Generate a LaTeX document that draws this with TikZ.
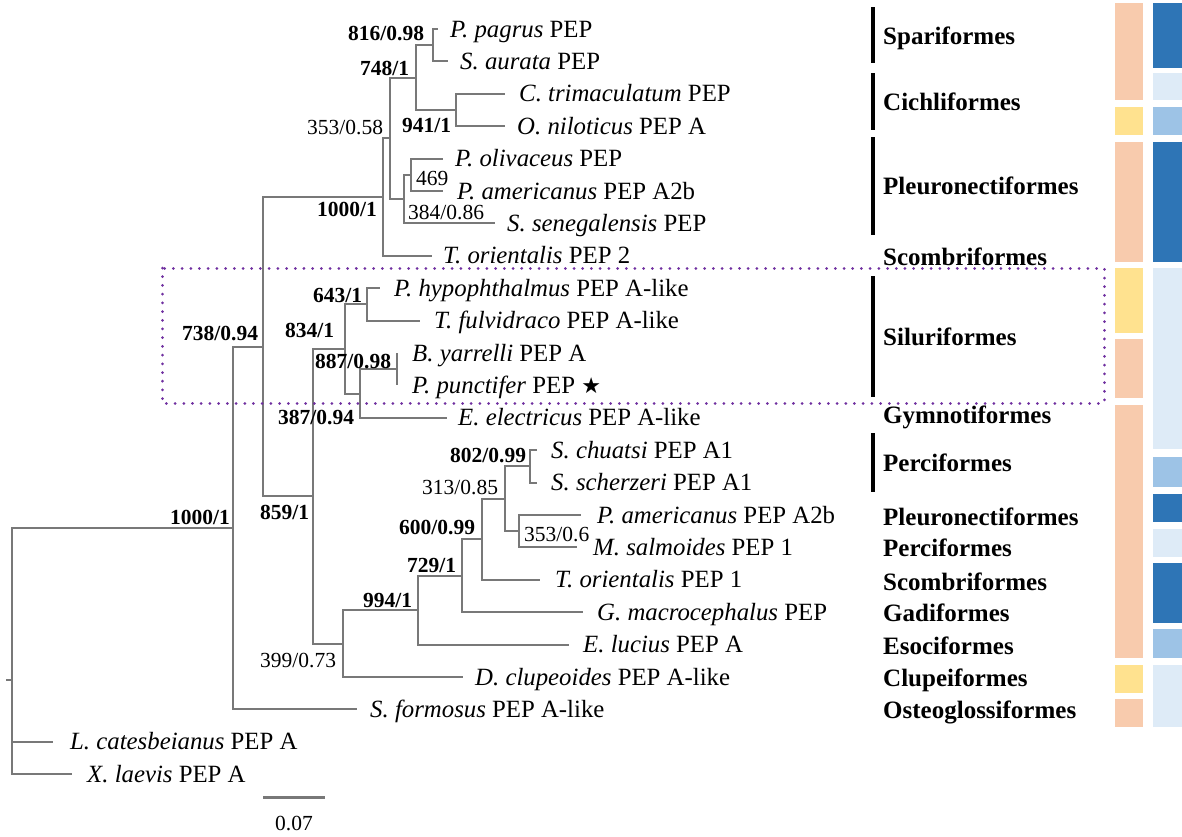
\documentclass[tikz,border=0pt]{standalone}
\usepackage{fontspec}
\setmainfont{Liberation Serif}
\newfontfamily\symfont{DejaVu Sans}
\definecolor{brgray}{RGB}{120,120,120}
\definecolor{boxpurple}{RGB}{112,48,160}
\definecolor{salmon}{RGB}{248,203,173}
\definecolor{yellowc}{RGB}{255,226,143}
\definecolor{darkb}{RGB}{46,117,182}
\definecolor{midb}{RGB}{157,195,230}
\definecolor{lightb}{RGB}{222,235,247}
\begin{document}
\begin{tikzpicture}[x=1pt,y=-1pt,
  br/.style={draw=brgray, line width=2pt},
  leaf/.style={anchor=base west, inner sep=0pt, font=\fontsize{24.8}{24.8}\selectfont},
  supb/.style={anchor=base west, inner sep=0pt, font=\fontsize{21.5}{21.5}\selectfont\bfseries},
  supr/.style={anchor=base west, inner sep=0pt, font=\fontsize{21.5}{21.5}\selectfont},
  ord/.style={anchor=base west, inner sep=0pt, font=\fontsize{25}{25}\selectfont\bfseries},
  obar/.style={draw=black, line width=3.5pt},
  cbar/.style={draw=none}]
\useasboundingbox (0,0) rectangle (1182,836);
% leaves (branch tips)
\coordinate (L0) at (438,29);
\coordinate (L1) at (448,61.4);
\coordinate (L2) at (505,93.8);
\coordinate (L3) at (505,126.2);
\coordinate (L4) at (443,158.6);
\coordinate (L5) at (443,191);
\coordinate (L6) at (495,223.4);
\coordinate (L7) at (432,255.8);
\coordinate (L8) at (380,288.2);
\coordinate (L9) at (420,320.6);
\coordinate (L10) at (397,353);
\coordinate (L11) at (397,385.4);
\coordinate (L12) at (447,417.8);
\coordinate (L13) at (537,450.2);
\coordinate (L14) at (537,482.6);
\coordinate (L15) at (581,515);
\coordinate (L16) at (577,547.4);
\coordinate (L17) at (540,579.8);
\coordinate (L18) at (583,612.2);
\coordinate (L19) at (569,644.6);
\coordinate (L20) at (463,677);
\coordinate (L21) at (357,709.4);
\coordinate (L22) at (53,741.8);
\coordinate (L23) at (72,774.2);
% internal nodes
\coordinate (N816) at (433,45.2);
\coordinate (N941) at (456,110);
\coordinate (N748) at (416,77.6);
\coordinate (N469) at (411,174.8);
\coordinate (N384) at (404,199);
\coordinate (N353) at (390,138.3);
\coordinate (N1000a) at (383,197);
\coordinate (N643) at (367,304.4);
\coordinate (NBP) at (397,369.2);
\coordinate (N887) at (360,393.5);
\coordinate (N834) at (345,349);
\coordinate (N802) at (530,466.4);
\coordinate (N353b) at (519,531.2);
\coordinate (N313) at (505,498.8);
\coordinate (N600) at (482,539.3);
\coordinate (N729) at (462,575.8);
\coordinate (N994) at (418,610.2);
\coordinate (N399) at (343,643.6);
\coordinate (N387) at (313,496.3);
\coordinate (N859) at (263,346.7);
\coordinate (N738) at (233,528);
\coordinate (Root) at (12,680);
\coordinate (Rstub) at (6,680);
% branches
\draw[br] (N816) |- (L0); \draw[br] (N816) |- (L1);
\draw[br] (N941) |- (L2); \draw[br] (N941) |- (L3);
\draw[br] (N748) |- (N816); \draw[br] (N748) |- (N941);
\draw[br] (N469) |- (L4); \draw[br] (N469) |- (L5);
\draw[br] (N384) |- (N469); \draw[br] (N384) |- (L6);
\draw[br] (N353) |- (N748); \draw[br] (N353) |- (N384);
\draw[br] (N1000a) |- (N353); \draw[br] (N1000a) |- (L7);
\draw[br] (N643) |- (L8); \draw[br] (N643) |- (L9);
\draw[br] (NBP) -- (L10); \draw[br] (NBP) -- (L11);
\draw[br] (N887) |- (NBP); \draw[br] (N887) |- (L12);
\draw[br] (N834) |- (N643); \draw[br] (N834) |- (N887);
\draw[br] (N802) |- (L13); \draw[br] (N802) |- (L14);
\draw[br] (N353b) |- (L15); \draw[br] (N353b) |- (L16);
\draw[br] (N313) |- (N802); \draw[br] (N313) |- (N353b);
\draw[br] (N600) |- (N313); \draw[br] (N600) |- (L17);
\draw[br] (N729) |- (N600); \draw[br] (N729) |- (L18);
\draw[br] (N994) |- (N729); \draw[br] (N994) |- (L19);
\draw[br] (N399) |- (N994); \draw[br] (N399) |- (L20);
\draw[br] (N387) |- (N834); \draw[br] (N387) |- (N399);
\draw[br] (N859) |- (N1000a); \draw[br] (N859) |- (N387);
\draw[br] (N738) |- (N859); \draw[br] (N738) |- (L21);
\draw[br] (Root) |- (N738); \draw[br] (Root) |- (L22); \draw[br] (Root) |- (L23);
\draw[br] (Rstub) -- (Root);
% leaf labels
\node[leaf] (t0) at ([xshift=12pt,yshift=-8pt]L0) {\textit{P. pagrus} PEP};
\node[leaf] (t1) at ([xshift=12pt,yshift=-8pt]L1) {\textit{S. aurata} PEP};
\node[leaf] (t2) at ([xshift=14pt,yshift=-8pt]L2) {\textit{C. trimaculatum} PEP};
\node[leaf] (t3) at ([xshift=12pt,yshift=-8pt]L3) {\textit{O. niloticus} PEP A};
\node[leaf] (t4) at ([xshift=12pt,yshift=-8pt]L4) {\textit{P. olivaceus} PEP};
\node[leaf] (t5) at ([xshift=14pt,yshift=-8pt]L5) {\textit{P. americanus} PEP A2b};
\node[leaf] (t6) at ([xshift=12pt,yshift=-8pt]L6) {\textit{S. senegalensis} PEP};
\node[leaf] (t7) at ([xshift=11pt,yshift=-8pt]L7) {\textit{T. orientalis} PEP 2};
\node[leaf] (t8) at ([xshift=14pt,yshift=-8pt]L8) {\textit{P. hypophthalmus} PEP A-like};
\node[leaf] (t9) at ([xshift=14pt,yshift=-8pt]L9) {\textit{T. fulvidraco} PEP A-like};
\node[leaf] (t10) at ([xshift=15pt,yshift=-8pt]L10) {\textit{B. yarrelli} PEP A};
\node[leaf] (t11) at ([xshift=15pt,yshift=-8pt]L11) {\textit{P. punctifer} PEP {\symfont\fontsize{22}{22}\selectfont ★}};
\node[leaf] (t12) at ([xshift=11pt,yshift=-8pt]L12) {\textit{E. electricus} PEP A-like};
\node[leaf] (t13) at ([xshift=14pt,yshift=-8pt]L13) {\textit{S. chuatsi} PEP A1};
\node[leaf] (t14) at ([xshift=14pt,yshift=-8pt]L14) {\textit{S. scherzeri} PEP A1};
\node[leaf] (t15) at ([xshift=16pt,yshift=-8pt]L15) {\textit{P. americanus} PEP A2b};
\node[leaf] (t16) at ([xshift=16pt,yshift=-8pt]L16) {\textit{M. salmoides} PEP 1};
\node[leaf] (t17) at ([xshift=15pt,yshift=-8pt]L17) {\textit{T. orientalis} PEP 1};
\node[leaf] (t18) at ([xshift=14pt,yshift=-8pt]L18) {\textit{G. macrocephalus} PEP};
\node[leaf] (t19) at ([xshift=14pt,yshift=-8pt]L19) {\textit{E. lucius} PEP A};
\node[leaf] (t20) at ([xshift=12pt,yshift=-8pt]L20) {\textit{D. clupeoides} PEP A-like};
\node[leaf] (t21) at ([xshift=13pt,yshift=-8pt]L21) {\textit{S. formosus} PEP A-like};
\node[leaf] (t22) at ([xshift=17pt,yshift=-8pt]L22) {\textit{L. catesbeianus} PEP A};
\node[leaf] (t23) at ([xshift=15pt,yshift=-8pt]L23) {\textit{X. laevis} PEP A};
% support values
\node[supb] (s1) at (348,40) {816/0.98};
\node[supb] (s2) at (360,75) {748/1};
\node[supr] (s3) at (307,134) {353/0.58};
\node[supb] (s4) at (402,132) {941/1};
\node[supr] (s5) at (416,185) {469};
\node[supr] (s6) at (408,219) {384/0.86};
\node[supb] (s7) at (317,216) {1000/1};
\node[supb] (s8) at (313,302) {643/1};
\node[supb] (s9) at (285,337) {834/1};
\node[supb] (s10) at (182,340) {738/0.94};
\node[supb] (s11) at (315,368) {887/0.98};
\node[supb] (s12) at (278,424) {387/0.94};
\node[supb] (s13) at (260,519) {859/1};
\node[supb] (s14) at (170,524) {1000/1};
\node[supb] (s15) at (450,462) {802/0.99};
\node[supr] (s16) at (422,494) {313/0.85};
\node[supb] (s17) at (399,534) {600/0.99};
\node[supr] (s18) at (524,541) {353/0.6};
\node[supb] (s19) at (407,572) {729/1};
\node[supb] (s20) at (363,607) {994/1};
\node[supr] (s21) at (260,667) {399/0.73};
% highlight box
\draw[draw=boxpurple, line width=3pt, line cap=round, dash pattern=on 0.01pt off 8.7pt] (162,268) rectangle (1104,403);
% order bars and labels
\draw[obar] (873,7) -- (873,63);
\draw[obar] (873,73) -- (873,130);
\draw[obar] (873,137) -- (873,235);
\draw[obar] (873,276) -- (873,397);
\draw[obar] (873,433) -- (873,492);
\node[ord] (o1) at (883,44.5) {Spariformes};
\node[ord] (o2) at (883,110.5) {Cichliformes};
\node[ord] (o3) at (883,194.5) {Pleuronectiformes};
\node[ord] (o4) at (883,265.5) {Scombriformes};
\node[ord] (o5) at (883,345.5) {Siluriformes};
\node[ord] (o6) at (883,423.5) {Gymnotiformes};
\node[ord] (o7) at (883,471.5) {Perciformes};
\node[ord] (o8) at (883,525.5) {Pleuronectiformes};
\node[ord] (o9) at (883,556.5) {Perciformes};
\node[ord] (o10) at (883,590.5) {Scombriformes};
\node[ord] (o11) at (883,621.5) {Gadiformes};
\node[ord] (o12) at (883,654.5) {Esociformes};
\node[ord] (o13) at (883,686.5) {Clupeiformes};
\node[ord] (o14) at (883,718.5) {Osteoglossiformes};
% colour bars column 1
\fill[salmon] (1115,3) rectangle (1143,100);
\fill[yellowc] (1115,107) rectangle (1143,135);
\fill[salmon] (1115,142) rectangle (1143,262);
\fill[yellowc] (1115,268) rectangle (1143,333);
\fill[salmon] (1115,339) rectangle (1143,398);
\fill[salmon] (1115,405) rectangle (1143,658);
\fill[yellowc] (1115,665) rectangle (1143,693);
\fill[salmon] (1115,699) rectangle (1143,727);
% colour bars column 2
\fill[darkb] (1153,3) rectangle (1182,68);
\fill[lightb] (1153,73) rectangle (1182,100);
\fill[midb] (1153,107) rectangle (1182,135);
\fill[darkb] (1153,142) rectangle (1182,262);
\fill[lightb] (1153,268) rectangle (1182,449);
\fill[midb] (1153,457) rectangle (1182,487);
\fill[darkb] (1153,494) rectangle (1182,522);
\fill[lightb] (1153,529) rectangle (1182,557);
\fill[darkb] (1153,563) rectangle (1182,623);
\fill[midb] (1153,629) rectangle (1182,658);
\fill[lightb] (1153,665) rectangle (1182,727);
% scale bar
\coordinate (SB1) at (263,797);
\coordinate (SB2) at (325,797);
\draw[draw=brgray, line width=3pt] (SB1) -- (SB2);
\node[supr] (sbl) at (275,830) {0.07};
\end{tikzpicture}
\end{document}
